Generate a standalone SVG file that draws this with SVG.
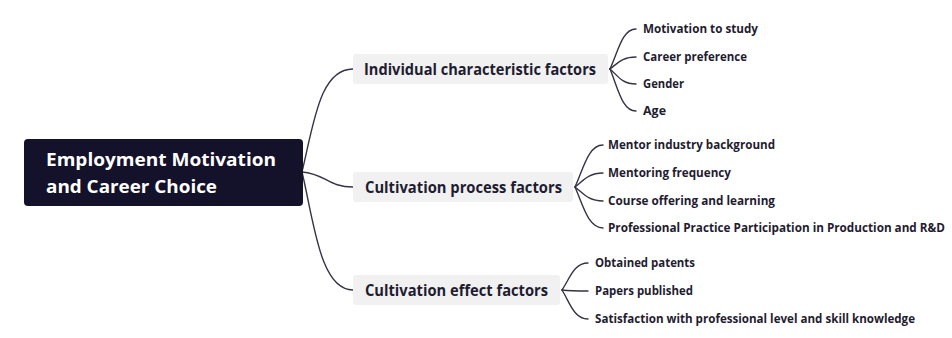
<svg xmlns="http://www.w3.org/2000/svg" width="952" height="338" viewBox="0 0 952 338">
  <style>
    .root-box { fill: #14112a; }
    .topic-box { fill: #f1f1f2; }
    .link { fill: none; stroke: #363345; stroke-width: 1.4; stroke-linecap: round; }
    text { font-family: "Open Sans", "Noto Sans", "Liberation Sans", sans-serif; font-weight: 700; }
    .root-text { fill: #ffffff; font-size: 17.5px; }
    .topic-text { fill: #1f1c30; font-size: 15.5px; }
    .leaf-text { fill: #1f1c30; font-size: 12px; }
  </style>

  <!-- connectors -->
  <g id="connectors">
    <!-- root to main topics -->
    <path class="link" d="M302 172 C314 122, 320 69, 353 69"/>
    <path class="link" d="M302 172 C326 174, 328 187, 353 187"/>
    <path class="link" d="M302 172 C314 222, 320 290, 353 290"/>
    <!-- individual characteristic factors -->
    <path class="link" d="M610 69 C618 52, 622 29, 636 29"/>
    <path class="link" d="M610 69 C618 63, 622 57, 636 57"/>
    <path class="link" d="M610 69 C618 76, 622 84, 636 84"/>
    <path class="link" d="M610 69 C618 88, 622 111, 636 111"/>
    <!-- cultivation process factors -->
    <path class="link" d="M575 187 C583 170, 588 145, 603 145"/>
    <path class="link" d="M575 187 C583 181, 588 173, 603 173"/>
    <path class="link" d="M575 187 C583 193, 588 201, 603 201"/>
    <path class="link" d="M575 187 C583 205, 588 228, 603 228"/>
    <!-- cultivation effect factors -->
    <path class="link" d="M562 290 C570 278, 574 263, 588 263"/>
    <path class="link" d="M562 290 C570 291, 574 291, 588 291"/>
    <path class="link" d="M562 290 C570 303, 574 319, 588 319"/>
  </g>

  <g id="root">
    <rect class="root-box" x="24" y="139" width="279" height="67" rx="4"/>
    <text class="root-text" x="46" y="166" textLength="230" lengthAdjust="spacingAndGlyphs">Employment Motivation</text>
    <text class="root-text" x="46" y="193" textLength="171" lengthAdjust="spacingAndGlyphs">and Career Choice</text>
  </g>

  <g id="individual-characteristic-factors">
    <rect class="topic-box" x="353" y="54" width="255" height="30" rx="3"/>
    <text class="topic-text" x="364" y="75" textLength="232" lengthAdjust="spacingAndGlyphs">Individual characteristic factors</text>
  </g>
  <g id="cultivation-process-factors">
    <rect class="topic-box" x="353" y="172" width="220" height="30" rx="3"/>
    <text class="topic-text" x="365" y="193" textLength="197" lengthAdjust="spacingAndGlyphs">Cultivation process factors</text>
  </g>
  <g id="cultivation-effect-factors">
    <rect class="topic-box" x="353" y="275" width="207" height="30" rx="3"/>
    <text class="topic-text" x="365" y="296" textLength="183" lengthAdjust="spacingAndGlyphs">Cultivation effect factors</text>
  </g>

  <g id="motivation-to-study"><text class="leaf-text" x="643" y="33" textLength="115" lengthAdjust="spacingAndGlyphs">Motivation to study</text></g>
  <g id="career-preference"><text class="leaf-text" x="643" y="61" textLength="104" lengthAdjust="spacingAndGlyphs">Career preference</text></g>
  <g id="gender"><text class="leaf-text" x="643" y="88" textLength="41" lengthAdjust="spacingAndGlyphs">Gender</text></g>
  <g id="age"><text class="leaf-text" x="643" y="115" textLength="23" lengthAdjust="spacingAndGlyphs">Age</text></g>

  <g id="mentor-industry-background"><text class="leaf-text" x="608" y="149" textLength="167" lengthAdjust="spacingAndGlyphs">Mentor industry background</text></g>
  <g id="mentoring-frequency"><text class="leaf-text" x="608" y="177" textLength="123" lengthAdjust="spacingAndGlyphs">Mentoring frequency</text></g>
  <g id="course-offering"><text class="leaf-text" x="608" y="205" textLength="167" lengthAdjust="spacingAndGlyphs">Course offering and learning</text></g>
  <g id="professional-practice"><text class="leaf-text" x="608" y="232" textLength="337" lengthAdjust="spacingAndGlyphs">Professional Practice Participation in Production and R&amp;D</text></g>

  <g id="obtained-patents"><text class="leaf-text" x="595" y="267" textLength="100" lengthAdjust="spacingAndGlyphs">Obtained patents</text></g>
  <g id="papers-published"><text class="leaf-text" x="595" y="295" textLength="98" lengthAdjust="spacingAndGlyphs">Papers published</text></g>
  <g id="satisfaction"><text class="leaf-text" x="595" y="323" textLength="320" lengthAdjust="spacingAndGlyphs">Satisfaction with professional level and skill knowledge</text></g>
</svg>
